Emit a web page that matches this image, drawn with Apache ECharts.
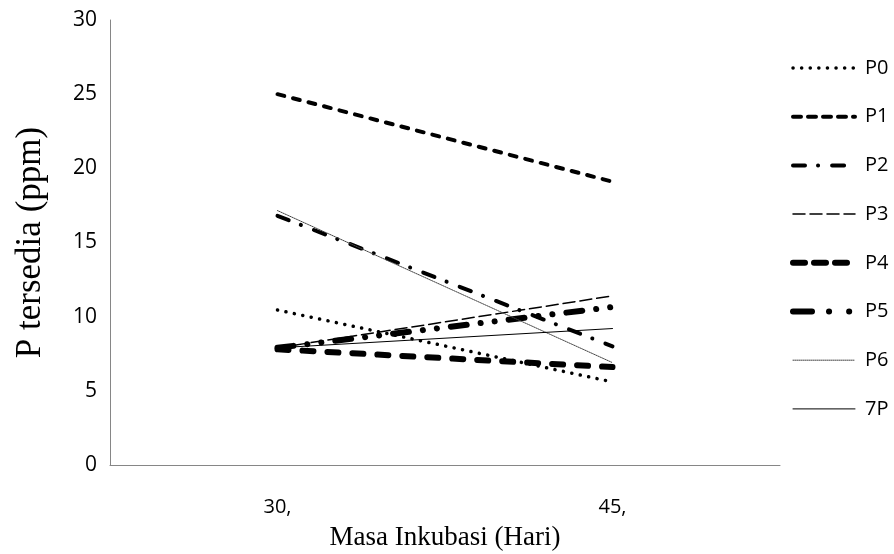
<!DOCTYPE html>
<html><head><meta charset="utf-8">
<script src="https://cdn.jsdelivr.net/npm/echarts@6/dist/echarts.min.js"></script>
<style>html,body{margin:0;padding:0;background:#fff}#c{width:894px;height:554px}</style>
</head><body><div id="c"></div>
<script>
const categories = ['30,', '45,'];
const seriesNames = ['P0', 'P1', 'P2', 'P3', 'P4', 'P5', 'P6', '7P'];
const P0 = [10.45, 5.6];
const P1 = [25.0, 19.1];
const P2 = [16.8, 8.0];
const P3 = [7.9, 11.4];
const P4 = [7.8, 6.6];
const P5 = [7.9, 10.65];
const P6 = [17.15, 6.9];
const P7 = [7.9, 9.2];
const yTicks = [0, 5, 10, 15, 20, 25, 30];

const values = [P0, P1, P2, P3, P4, P5, P6, P7];
const styles = [
  {width: 3.5, type: [0.1, 8.5], color: '#000'},
  {width: 4, type: [7, 9], color: '#000'},
  {width: 4, type: [12, 13, 0.1, 14], color: '#000'},
  {width: 1.5, type: [12, 5], color: '#000'},
  {width: 6, type: [11, 14], color: '#000'},
  {width: 6, type: [16, 14, 0.1, 14, 0.1, 14], color: '#000'},
  {width: 1, type: [1, 1], color: '#444'},
  {width: 1, type: 'solid', color: '#000'}
];
const legendStyles = [
  {width: 3.5, type: [0.1, 8.5], color: '#000'},
  {width: 4, type: [8, 7], color: '#000'},
  {width: 4, type: [12, 13, 0.1, 14], color: '#000'},
  {width: 1.5, type: [12, 5], color: '#000'},
  {width: 6, type: [12, 9], color: '#000'},
  {width: 6, type: [19, 17, 0.1, 20, 0.1, 20], color: '#000'},
  {width: 1, type: [1, 1], color: '#444'},
  {width: 1, type: 'solid', color: '#000'}
];

const chart = echarts.init(document.getElementById('c'), null, {renderer: 'canvas'});
chart.setOption({
  animation: false,
  backgroundColor: '#fff',
  grid: {left: 110, right: 114, top: 20, bottom: 89, containLabel: false, outerBoundsMode: 'none'},
  legend: {
    orient: 'vertical', left: 785, top: 51,
    itemWidth: 62, itemHeight: 14, itemGap: 24.7,
    itemStyle: {opacity: 0},
    textStyle: {fontFamily: 'Open Sans', fontSize: 20, lineHeight: 24, color: '#000', padding: [0, 0, 0, 5]},
    data: seriesNames.map((n, i) => ({name: n, lineStyle: Object.assign({cap: 'round'}, legendStyles[i])}))
  },
  xAxis: {
    type: 'category', data: categories, boundaryGap: true,
    axisLine: {lineStyle: {color: '#868686', width: 1}},
    axisTick: {show: false},
    axisLabel: {fontFamily: 'Open Sans', fontSize: 20, color: '#000', margin: 32},
    name: 'Masa Inkubasi (Hari)', nameLocation: 'middle', nameGap: 59,
    nameTextStyle: {fontFamily: 'Liberation Serif', fontSize: 27, color: '#000'}
  },
  yAxis: {
    type: 'value', min: 0, max: 30, interval: 5,
    axisLine: {show: true, lineStyle: {color: '#868686', width: 1}},
    axisTick: {show: false},
    splitLine: {show: false},
    axisLabel: {fontFamily: 'Open Sans', fontSize: 21, color: '#000', margin: 13,
      formatter: v => yTicks.includes(v) ? String(v) : ''},
    name: 'P tersedia (ppm)', nameLocation: 'middle', nameGap: 62, nameRotate: 90,
    nameTextStyle: {fontFamily: 'Liberation Serif', fontSize: 35, color: '#000'}
  },
  series: values.map((d, i) => ({
    name: seriesNames[i], type: 'line', data: d, symbol: 'none',
    color: styles[i].color,
    lineStyle: Object.assign({cap: 'round'}, styles[i])
  }))
});
</script></body></html>
